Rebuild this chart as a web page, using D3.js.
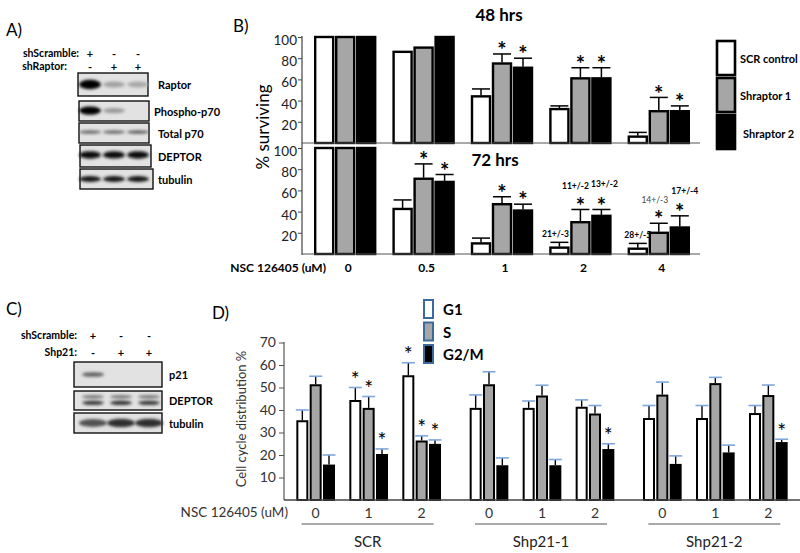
<!DOCTYPE html>
<html><head><meta charset="utf-8">
<script src="https://cdn.jsdelivr.net/npm/d3@7"></script>
<style>body{margin:0;background:#fff}svg{display:block}text{font-family:Lato,"Open Sans",sans-serif}</style>
</head><body><svg id="c" width="800" height="553"></svg>
<script>
// ---------- Panel B data ----------
const concB = ["0","0.5","1","2","4"];
const seriesB = ["SCR control","Shraptor 1","Shraptor 2"];
const ticksB = [20,40,60,80,100];
const surv48 = [[100,86,44,32,6],[100,90,75,61,30],[100,100,71,61,30]];
const err48  = [[null,null,51,35,10],[null,null,84,71,43],[null,null,80,71,35]];
const star48 = [[0,0,0,0,0],[0,0,1,1,1],[0,0,1,1,1]];
const surv72 = [[100,42.5,10,6,5],[100,71,47,30,20],[100,68,41,36,25]];
const err72  = [[null,51,15,11,10],[null,85,54,42,29],[null,75,47,42,36]];
const star72 = [[0,0,0,0,0],[0,1,1,1,1],[0,1,1,1,1]];
const ann72  = [[null,null,null,"21+/-3","28+/-5"],[null,null,null,"11+/-2","14+/-3"],[null,null,null,"13+/-2","17+/-4"]];

// ---------- Panel D data ----------
const setsD = ["SCR","Shp21-1","Shp21-2"];
const concD = ["0","1","2"];
const phasesD = ["G1","S","G2/M"];
const ticksD = [10,20,30,40,50,60,70];
const valG1  = [35,44,55, 40.5,40.5,41, 36,36,38.2];
const valS   = [51,40.5,26, 51,46,38, 46.4,51.5,46.2];
const valG2M = [15.3,20,24.5, 15,15,22.2, 15.6,20.7,25.3];
const errG1  = [40,50,61, 46.7,44,44.5, 42,42,42];
const errS   = [55,46,28.5, 57,51,42, 52.4,54.5,51.1];
const errG2M = [20,22.7,26.7, 18.7,18,25, 19.6,24.4,27];
const starG1  = [0,1,1, 0,0,0, 0,0,0];
const starS   = [0,1,1, 0,0,0, 0,0,0];
const starG2M = [0,1,1, 0,0,1, 0,0,1];

// ---------- Blot band intensities (lanes 1..3) ----------
const blotLabelsA = ["Raptor","Phospho-p70","Total p70","DEPTOR","tubulin"];
const blotIntA = [[0.97,0.25,0.22],[0.97,0.28,0],[0.5,0.5,0.55],[0.95,0.92,0.95],[0.9,0.9,0.9]];
const blotLabelsC = ["p21","DEPTOR","tubulin"];
const blotIntC = [[0.55,0,0],[0.72,0.75,0.72],[0.62,0.78,0.78]];
const laneSignsA = [["+","-","-"],["-","+","+"]];
const laneSignsC = [["+","-","-"],["-","+","+"]];

const svg = d3.select("#c");
const defs = svg.append("defs");
defs.append("filter").attr("id","blur").attr("x","-50%").attr("y","-100%").attr("width","200%").attr("height","300%")
  .append("feGaussianBlur").attr("stdDeviation","1.5");

const fills = ["#ffffff","#a6a6a6","#000000"];

// ---------- Panel labels ----------
const lab = (x,y,t,fs,fw)=>svg.append("text").attr("x",x).attr("y",y).attr("font-size",fs).attr("font-weight",fw||"normal").attr("dominant-baseline","central").text(t);
lab(6,29,"A)",17); lab(233,25,"B)",17); lab(6,308,"C)",17); lab(212,312,"D)",17);

// ---------- Blots ----------
function blotPanel(rows, labels, ints, signs, header, laneX){
  const laneScale = d3.scalePoint().domain([0,1,2]).range(laneX);
  header.forEach((h,i)=>{
    svg.append("text").attr("x",h.x).attr("y",h.y).attr("text-anchor","end").attr("font-size",10.5).attr("font-weight","bold").attr("dominant-baseline","central").text(h.t);
    signs[i].forEach((s,j)=>svg.append("text").attr("x",laneScale(j)).attr("y",h.y).attr("text-anchor","middle").attr("font-size",11).attr("font-weight","bold").attr("dominant-baseline","central").text(s));
  });
  rows.forEach((r,i)=>{
    const g = svg.append("g");
    g.append("rect").attr("x",r.x).attr("y",r.y).attr("width",r.w).attr("height",r.h).attr("fill",r.bg||"#e2e2e2").attr("stroke","#111").attr("stroke-width",1.4);
    ints[i].forEach((v,j)=>{
      if(v<=0) return;
      const col = d3.interpolateRgb("#d6d6d6","#000")(v);
      g.append("ellipse").attr("cx",laneScale(j)).attr("cy",r.y+r.h*(r.by||0.5)).attr("rx",r.rx||11).attr("ry",(r.ry||3)*(0.6+0.6*v))
        .attr("fill",col).attr("filter","url(#blur)");
      if(r.extra){
        g.append("ellipse").attr("cx",laneScale(j)).attr("cy",r.y+r.h*r.extra).attr("rx",r.rx||11).attr("ry",1.8)
          .attr("fill","#777").attr("filter","url(#blur)");
      }
    });
    svg.append("text").attr("x",r.x+r.w+r.lx).attr("y",r.y+r.h/2).attr("font-size",11).attr("font-weight","bold").attr("dominant-baseline","central").text(labels[i]);
  });
}
blotPanel([
  {x:78,y:73,w:70,h:23,ry:4,by:0.5,lx:10},
  {x:79,y:101,w:70,h:20,ry:3.5,by:0.48,lx:5},
  {x:79,y:123,w:70,h:20,ry:2,by:0.45,lx:9},
  {x:80,y:145,w:71,h:22,ry:3.2,by:0.45,lx:7},
  {x:80,y:169,w:73,h:20,ry:2.6,by:0.5,lx:5}
], blotLabelsA, blotIntA, laneSignsA,
  [{x:79,y:53,t:"shScramble:"},{x:67,y:66,t:"shRaptor:"}], [90,138]);

blotPanel([
  {x:74,y:362,w:88,h:25,ry:2.5,by:0.5,lx:7},
  {x:74,y:391,w:88,h:19,ry:2.2,by:0.62,lx:7,extra:0.3},
  {x:74,y:413,w:88,h:20,ry:4,by:0.5,lx:7,rx:14}
], blotLabelsC, blotIntC, laneSignsC,
  [{x:77,y:335,t:"shScramble:"},{x:77,y:352,t:"Shp21:"}], [93,149]);

// ---------- Panel B ----------
const xB = d3.scaleBand().domain(concB).range([306,698]);
const subB = d3.scaleBand().domain(seriesB).range([-31.5,31.5]);
const bwB = 18;
const yTop = d3.scaleLinear().domain([0,100]).range([143,37]);
const yBot = d3.scaleLinear().domain([0,100]).range([254,148]);
const cB = g => xB(g)+xB.bandwidth()/2;
// label nudges [dx,dy] for the 72 h annotations (series x concentration)
const annNudge = {"0-3":[-4,0],"0-4":[0,0],"1-3":[-5,-3],"1-4":[-4,-3],"2-3":[3,-5],"2-4":[5,-5]};

function drawB(y, vals, errs, stars, ann){
  const g = svg.append("g");
  const gt = svg.append("g");
  seriesB.forEach((s,si)=>{
    concB.forEach((c,ci)=>{
      const v = vals[si][ci];
      const xc = cB(c)+subB(s)+subB.bandwidth()/2;
      g.append("rect").attr("x",xc-bwB/2).attr("y",y(v)).attr("width",bwB).attr("height",y(0)-y(v))
        .attr("fill",fills[si]).attr("stroke","#000").attr("stroke-width",2.4);
      const e = errs[si][ci];
      let top = y(v);
      if(e!=null){
        top = y(e);
        g.append("line").attr("x1",xc).attr("x2",xc).attr("y1",y(v)-1).attr("y2",y(e)).attr("stroke","#000").attr("stroke-width",1.5);
        g.append("line").attr("x1",xc-bwB/2).attr("x2",xc+bwB/2).attr("y1",y(e)).attr("y2",y(e)).attr("stroke","#000").attr("stroke-width",1.5);
      }
      let annY = top-8;
      if(stars[si][ci]){
        const sc = top-8;
        gt.append("text").attr("x",xc).attr("y",sc+0.55*22).attr("text-anchor","middle").attr("font-size",22).attr("font-weight","bold").text("*");
        annY = sc-12;
      }
      if(ann && ann[si][ci]){
        const plain = si===1&&ci===4;
        const nd = annNudge[si+"-"+ci]||[0,0];
        gt.append("text").attr("x",xc+nd[0]).attr("y",annY+nd[1]).attr("text-anchor","middle").attr("dominant-baseline","central")
          .attr("font-size",8.5).attr("font-weight",plain?"normal":"bold").attr("fill",plain?"#444":"#000").text(ann[si][ci]);
      }
    });
  });
  const ax = g.append("g").attr("transform","translate(302,0)").call(d3.axisLeft(y).tickValues(ticksB).tickSize(4).tickPadding(1));
  ax.select(".domain").remove();
  ax.selectAll("text").attr("font-size",13.5).attr("font-family","Lato").attr("fill","#222").attr("dy","0.55em");
  ax.selectAll("line").attr("stroke","#444");
  g.append("line").attr("x1",302).attr("x2",700).attr("y1",y(0)).attr("y2",y(0)).attr("stroke","#555").attr("stroke-width",1.2);
}
drawB(yTop, surv48, err48, star48, null);
drawB(yBot, surv72, err72, star72, ann72);
svg.append("line").attr("x1",302).attr("x2",302).attr("y1",36).attr("y2",255).attr("stroke","#444").attr("stroke-width",1.2);
svg.append("text").attr("x",499).attr("y",14).attr("text-anchor","middle").attr("dominant-baseline","central").attr("font-size",17).attr("font-weight","bold").text("48 hrs");
svg.append("text").attr("x",495).attr("y",159).attr("text-anchor","middle").attr("dominant-baseline","central").attr("font-size",17).attr("font-weight","bold").text("72 hrs");
svg.append("text").attr("transform","translate(262,127) rotate(-90)").attr("text-anchor","middle").attr("dominant-baseline","central").attr("font-size",17).text("% surviving");
svg.append("text").attr("x",326).attr("y",267).attr("text-anchor","end").attr("dominant-baseline","central").attr("font-size",12).attr("font-weight","bold").text("NSC 126405 (uM)");
concB.forEach(c=>svg.append("text").attr("x",cB(c)+3).attr("y",267).attr("text-anchor","middle").attr("dominant-baseline","central").attr("font-size",12).attr("font-weight","bold").text(c));
// legend B
const legB = d3.scaleBand().domain(seriesB).range([41,149]).paddingInner(0.08);
seriesB.forEach((s,i)=>{
  svg.append("rect").attr("x",717).attr("y",legB(s)).attr("width",18).attr("height",legB.bandwidth()).attr("fill",fills[i]).attr("stroke","#000").attr("stroke-width",2.6);
  svg.append("text").attr("x",i===2?743:740).attr("y",i===2?legB(s)+legB.bandwidth()*0.55:legB(s)+legB.bandwidth()/2).attr("dominant-baseline","central").attr("font-size",11).attr("font-weight","bold").text(s);
});

// ---------- Panel D ----------
const yD = d3.scaleLinear().domain([0,70]).range([500,342.5]);
const xSet = d3.scaleBand().domain(setsD).range([281,801]);
const xConc = d3.scalePoint().domain(concD).range([-52,54]);
const xPh = d3.scaleBand().domain(phasesD).range([-20,20]);
const bwD = 10;
const valsD = [valG1,valS,valG2M], errsD=[errG1,errS,errG2M], starsD=[starG1,starS,starG2M];
const gD = svg.append("g");
const gDs = svg.append("g");
setsD.forEach((s,si)=>{
  const sc = xSet(s)+xSet.bandwidth()/2;
  concD.forEach((c,ci)=>{
    const idx = si*3+ci;
    const cc = sc + xConc(c);
    phasesD.forEach((p,pi)=>{
      const v = valsD[pi][idx], e = errsD[pi][idx];
      const xc = cc + xPh(p)+xPh.bandwidth()/2;
      gD.append("rect").attr("x",xc-bwD/2).attr("y",yD(v)).attr("width",bwD).attr("height",yD(0)-yD(v))
        .attr("fill",fills[pi]).attr("stroke","#000").attr("stroke-width",2);
      gD.append("line").attr("x1",xc).attr("x2",xc).attr("y1",yD(v)-1).attr("y2",yD(e)).attr("stroke","#000").attr("stroke-width",1.4);
      gD.append("line").attr("x1",xc-6.5).attr("x2",xc+6.5).attr("y1",yD(e)).attr("y2",yD(e)).attr("stroke","#7ea8dc").attr("stroke-width",1.6);
      if(starsD[pi][idx]){
        gDs.append("text").attr("x",xc).attr("y",yD(e)-12+0.55*21).attr("text-anchor","middle").attr("font-size",21).attr("fill","#000").text("*");
      }
    });
    gD.append("text").attr("x",cc).attr("y",512).attr("text-anchor","middle").attr("dominant-baseline","central").attr("font-size",14).attr("fill","#333").text(c);
  });
  gD.append("line").attr("x1",sc-66).attr("x2",sc+66).attr("y1",524).attr("y2",524).attr("stroke","#555").attr("stroke-width",1);
  gD.append("text").attr("x",sc).attr("y",541).attr("text-anchor","middle").attr("dominant-baseline","central").attr("font-size",15).attr("fill","#222").text(s);
});
const axD = gD.append("g").attr("transform","translate(284,0)").call(d3.axisLeft(yD).tickValues(ticksD).tickSize(5).tickPadding(3));
axD.select(".domain").remove();
axD.selectAll("text").attr("font-size",14).attr("font-family","Lato").attr("fill","#333");
axD.selectAll("line").attr("stroke","#555");
gD.append("line").attr("x1",284).attr("x2",284).attr("y1",342).attr("y2",500).attr("stroke","#555").attr("stroke-width",1.2);
gD.append("line").attr("x1",284).attr("x2",800).attr("y1",500).attr("y2",500).attr("stroke","#444").attr("stroke-width",1.4);
gD.append("text").attr("x",288).attr("y",512).attr("text-anchor","end").attr("dominant-baseline","central").attr("font-size",13.5).attr("fill","#333").text("NSC 126405 (uM)");
gD.append("text").attr("transform","translate(241,419) rotate(-90)").attr("text-anchor","middle").attr("dominant-baseline","central").attr("font-size",13).attr("fill","#333").text("Cell cycle distribution %");
// legend D
const legD = d3.scaleBand().domain(phasesD).range([300,363]).paddingInner(0.2);
phasesD.forEach((p,i)=>{
  gD.append("rect").attr("x",424).attr("y",legD(p)).attr("width",9).attr("height",legD.bandwidth()).attr("fill",fills[i]).attr("stroke","#3d6a9e").attr("stroke-width",2);
  gD.append("text").attr("x",443).attr("y",legD(p)+legD.bandwidth()/2).attr("dominant-baseline","central").attr("font-size",15).attr("font-weight","bold").text(p);
});
</script></body></html>
